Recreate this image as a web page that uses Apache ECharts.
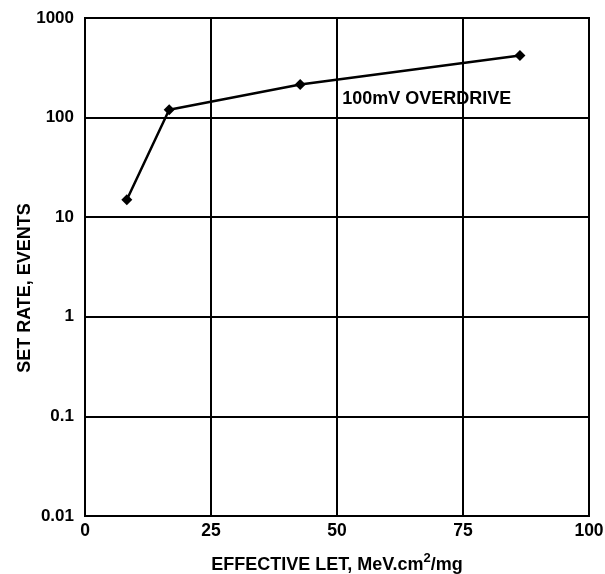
<!DOCTYPE html>
<html><head><meta charset="utf-8">
<script src="https://cdn.jsdelivr.net/npm/echarts@6/dist/echarts.min.js"></script>
<style>html,body{margin:0;padding:0;background:#fff}#c{width:605px;height:574px}</style>
</head><body><div id="c"></div>
<script>
const letValues = [8.3, 16.7, 42.7, 86.3];
const setRates = [15, 120, 215, 420];
const xTicks = [0, 25, 50, 75, 100];
const yTicks = [0.01, 0.1, 1, 10, 100, 1000];
const seriesLabel = '100mV OVERDRIVE';
const xAxisTitle = 'EFFECTIVE LET, MeV.cm';
const yAxisTitle = 'SET RATE, EVENTS';

const chart = echarts.init(document.getElementById('c'), null, {renderer: 'canvas'});
const font = 'Arial, "Liberation Sans", sans-serif';
chart.setOption({
  animation: false,
  backgroundColor: '#fff',
  grid: {left: 85, top: 18, right: 16, bottom: 58, show: true, borderColor: '#000', borderWidth: 2,
         containLabel: false, outerBoundsMode: 'none'},
  xAxis: {
    type: 'value', min: xTicks[0], max: xTicks[xTicks.length - 1], interval: 25,
    axisLine: {show: true, lineStyle: {color: '#000', width: 2}},
    axisTick: {show: false},
    splitLine: {show: true, lineStyle: {color: '#000', width: 2}},
    axisLabel: {color: '#000', fontFamily: font, fontWeight: 'bold', fontSize: 17.5, margin: 6},
    name: '{a|' + xAxisTitle + '}{s|2}{a|/mg}',
    nameLocation: 'middle', nameGap: 36,
    nameTextStyle: {rich: {
      a: {color: '#000', fontFamily: font, fontWeight: 'bold', fontSize: 18, verticalAlign: 'bottom', lineHeight: 22},
      s: {color: '#000', fontFamily: font, fontWeight: 'bold', fontSize: 13, verticalAlign: 'top', lineHeight: 22, padding: [0, 0, 8, 0]}
    }}
  },
  yAxis: {
    type: 'log', logBase: 10, min: yTicks[0], max: yTicks[yTicks.length - 1],
    axisLine: {show: true, lineStyle: {color: '#000', width: 2}},
    axisTick: {show: false},
    splitLine: {show: true, lineStyle: {color: '#000', width: 2}},
    axisLabel: {color: '#000', fontFamily: font, fontWeight: 'bold', fontSize: 17, margin: 11,
      formatter: v => { const t = yTicks.find(k => Math.abs(k - v) / k < 1e-6); return t === undefined ? '' : String(t); }}
  },
  graphic: [{
    type: 'text', x: 25, y: 288, rotation: Math.PI / 2,
    style: {text: yAxisTitle, fill: '#000', font: 'bold 18px ' + font, align: 'center', verticalAlign: 'middle'}
  }],
  series: [{
    type: 'line',
    data: letValues.map((x, i) => [x, setRates[i]]),
    symbol: 'diamond', symbolSize: 11,
    lineStyle: {color: '#000', width: 2.5},
    itemStyle: {color: '#000'},
    markPoint: {
      symbol: 'rect', symbolSize: 1, itemStyle: {color: 'rgba(0,0,0,0)'},
      data: [{coord: [67.8, 153], value: seriesLabel}],
      label: {show: true, formatter: seriesLabel, color: '#000', fontFamily: font, fontWeight: 'bold', fontSize: 18, position: 'inside'}
    }
  }]
});
</script></body></html>
